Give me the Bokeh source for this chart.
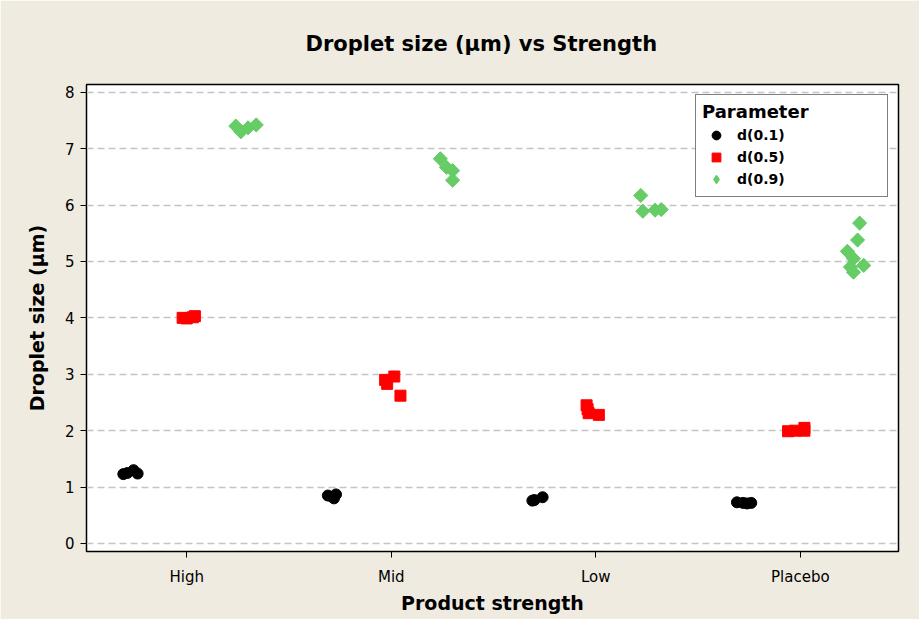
import math
from bokeh.plotting import figure
from bokeh.models import Range1d, FixedTicker, Legend, LegendItem, ColumnDataSource
from bokeh.embed import file_html
from bokeh.resources import INLINE

# ---------------- data ----------------
categories = ["High", "Mid", "Low", "Placebo"]
y_ticks = [0, 1, 2, 3, 4, 5, 6, 7, 8]

d01_strength = ["High"] * 4 + ["Mid"] * 4 + ["Low"] * 3 + ["Placebo"] * 4
d01_values = [1.23, 1.25, 1.30, 1.24,
              0.85, 0.83, 0.80, 0.87,
              0.76, 0.77, 0.82,
              0.73, 0.72, 0.71, 0.72]
d01_jitter = [-0.31, -0.29, -0.26, -0.24,
              -0.31, -0.29, -0.28, -0.27,
              -0.31, -0.30, -0.26,
              -0.31, -0.28, -0.26, -0.24]

d05_strength = ["High"] * 4 + ["Mid"] * 4 + ["Low"] * 4 + ["Placebo"] * 4
d05_values = [4.00, 3.99, 4.03, 4.01,
              2.90, 2.96, 2.83, 2.62,
              2.45, 2.38, 2.31, 2.28,
              1.99, 2.00, 2.05, 2.00]
d05_jitter = [-0.02, 0.00, 0.04, 0.03,
              -0.03, 0.015, -0.02, 0.045,
              -0.045, -0.04, -0.035, 0.015,
              -0.06, -0.025, 0.02, 0.02]

d09_strength = ["High"] * 4 + ["Mid"] * 4 + ["Low"] * 4 + ["Placebo"] * 7
d09_values = [7.40, 7.30, 7.37, 7.42,
              6.82, 6.67, 6.61, 6.44,
              6.17, 5.89, 5.91, 5.92,
              5.68, 5.38, 5.18, 5.05, 4.93, 4.81, 4.90]
d09_jitter = [0.24, 0.265, 0.30, 0.34,
              0.24, 0.27, 0.30, 0.30,
              0.22, 0.23, 0.29, 0.32,
              0.29, 0.28, 0.23, 0.26, 0.31, 0.26, 0.245]


def positions(strength, jitter):
    return [categories.index(s) + j for s, j in zip(strength, jitter)]


BEIGE = "#EFEBE0"
FONT = "DejaVu Sans"
GREEN = "#66cc66"
RED = "#ff0000"

p = figure(width=919, height=619, output_backend="svg", toolbar_location=None,
           x_range=Range1d(-0.49, 3.48), y_range=Range1d(-0.142, 8.137),
           min_border_left=86, min_border_right=21, min_border_top=84,
           min_border_bottom=68, title="Droplet size (µm) vs Strength")
p.border_fill_color = BEIGE
p.background_fill_color = "white"
p.outline_line_color = "black"
p.outline_line_width = 1.5

p.title.align = "left"
p.title.offset = 219
p.title.text_font = FONT
p.title.text_font_size = "21px"
p.title.text_font_style = "bold"
p.title.text_color = "black"
p.title.standoff = 57

# axes
p.xaxis.ticker = FixedTicker(ticks=list(range(len(categories))))
p.xaxis.major_label_overrides = {i: c for i, c in enumerate(categories)}
p.yaxis.ticker = FixedTicker(ticks=y_ticks)
for ax in (p.xaxis, p.yaxis):
    ax.minor_tick_line_color = None
    ax.major_tick_in = 0
    ax.major_tick_out = 6
    ax.major_tick_line_color = "black"
    ax.axis_line_color = "black"
    ax.major_label_text_font = FONT
    ax.major_label_text_font_size = "15px"
    ax.major_label_text_color = "black"
    ax.axis_label_text_font = FONT
    ax.axis_label_text_font_size = "19px"
    ax.axis_label_text_font_style = "bold"
    ax.axis_label_text_color = "black"
p.xaxis.axis_label = "Product strength"
p.yaxis.axis_label = "Droplet size (µm)"
p.xaxis.major_label_standoff = 10
p.xaxis.axis_label_standoff = 3
p.yaxis.major_label_standoff = 6
p.yaxis.axis_label_standoff = 14

p.xgrid.grid_line_color = None
p.ygrid.grid_line_color = "#c4c4c4"
p.ygrid.grid_line_width = 1.5
p.ygrid.grid_line_dash = "7 4"

s01 = ColumnDataSource(dict(x=positions(d01_strength, d01_jitter), y=d01_values))
s05 = ColumnDataSource(dict(x=positions(d05_strength, d05_jitter), y=d05_values))
s09 = ColumnDataSource(dict(x=positions(d09_strength, d09_jitter), y=d09_values))

r01 = p.scatter("x", "y", source=s01, marker="circle", size=11,
                fill_color="black", line_color="black")
r05 = p.scatter("x", "y", source=s05, marker="square", size=11,
                fill_color=RED, line_color=RED)
# diamond key for the legend (legend keys cannot be rotated); it sits fully
# underneath the rotated squares drawn next, so only the legend shows it
r09_key = p.scatter("x", "y", source=s09, marker="diamond", size=13,
                    fill_color=GREEN, line_color=GREEN)
r09 = p.scatter("x", "y", source=s09, marker="square", size=10, angle=math.pi / 4,
                fill_color=GREEN, line_color=GREEN)

legend = Legend(items=[LegendItem(label="d(0.1)", renderers=[r01]),
                       LegendItem(label="d(0.5)", renderers=[r05]),
                       LegendItem(label="d(0.9)", renderers=[r09_key])],
                location="top_right", title="Parameter")
legend.margin = 10
legend.padding = 6
legend.spacing = 0
legend.glyph_width = 28
legend.glyph_height = 22
legend.label_height = 20
legend.label_standoff = 7
legend.label_width = 144
legend.label_text_font = FONT
legend.label_text_font_size = "14px"
legend.label_text_font_style = "bold"
legend.label_text_color = "black"
legend.title_text_font = FONT
legend.title_text_font_size = "18px"
legend.title_text_font_style = "bold"
legend.title_text_color = "black"
legend.title_standoff = 2
legend.border_line_color = "black"
legend.border_line_width = 1.5
legend.background_fill_color = "white"
legend.background_fill_alpha = 1
p.add_layout(legend)

open("out.html", "w").write(file_html(p, INLINE))
